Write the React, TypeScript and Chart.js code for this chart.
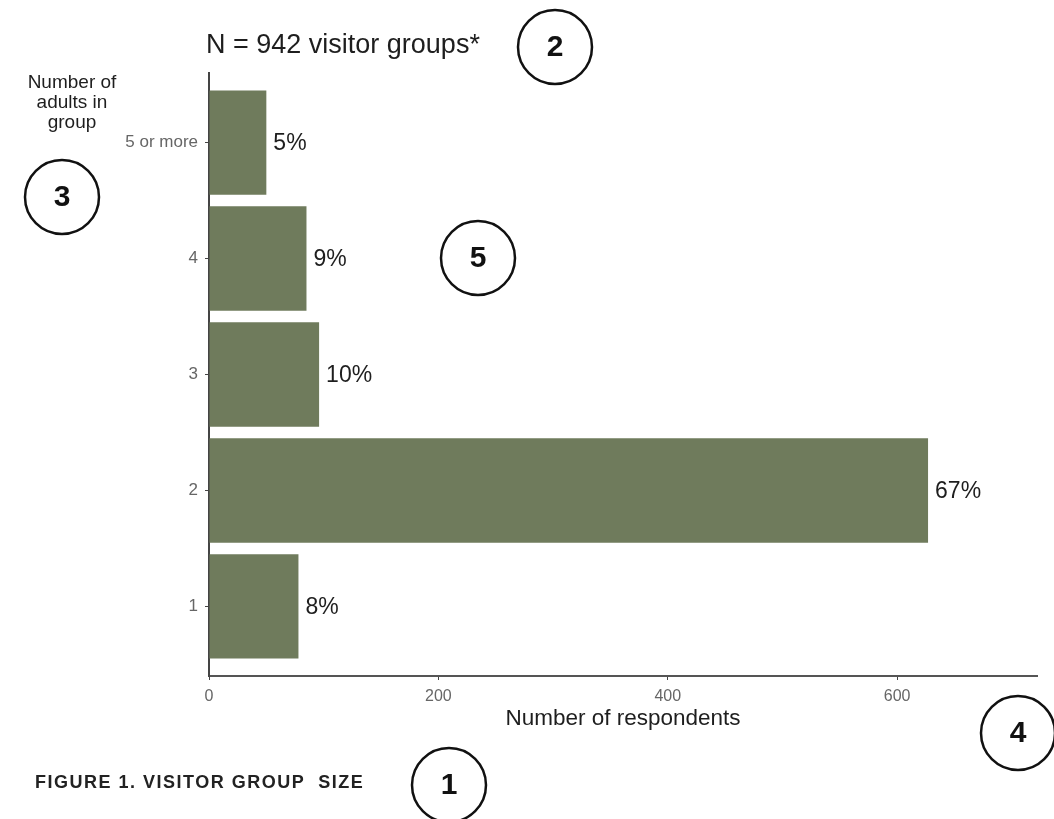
import React, { useEffect, useRef } from "react";
import { Chart, registerables } from "chart.js";

Chart.register(...registerables);

const categories = ["1", "2", "3", "4", "5 or more"];
const respondents = [78, 627, 96, 85, 50];
const percentLabels = ["8%", "67%", "10%", "9%", "5%"];
const xTicks = [0, 200, 400, 600];
const xMax = 722;
const titleText = "N = 942 visitor groups*";
const yTitleLines = ["Number of", "adults in", "group"];
const xTitleText = "Number of respondents";
const captionText = "FIGURE 1. VISITOR GROUP  SIZE";
const markers = [
  { n: "1", x: 449, y: 785 },
  { n: "2", x: 555, y: 47 },
  { n: "3", x: 62, y: 197 },
  { n: "4", x: 1018, y: 733 },
  { n: "5", x: 478, y: 258 },
];

const FONT = 'Arial, "Liberation Sans", sans-serif';
const BAR = "#6f7b5c";

const overlayPlugin = {
  id: "overlay",
  afterDraw(chart: any) {
    const ctx = chart.ctx;
    const xs = chart.scales.x;
    const ys = chart.scales.y;
    ctx.save();
    // data labels
    ctx.fillStyle = "#1e1e1e";
    ctx.font = `23px ${FONT}`;
    ctx.textAlign = "left";
    ctx.textBaseline = "middle";
    respondents.forEach((v, i) => {
      ctx.fillText(percentLabels[i], xs.getPixelForValue(v) + 7, ys.getPixelForValue(i) + 1);
    });
    // title
    ctx.font = `27px ${FONT}`;
    ctx.fillStyle = "#1e1e1e";
    ctx.fillText(titleText, 206, 46);
    // y title
    ctx.font = `19px ${FONT}`;
    ctx.textAlign = "center";
    yTitleLines.forEach((t, i) => ctx.fillText(t, 72, 83 + i * 20));
    // caption
    ctx.font = `bold 18px ${FONT}`;
    ctx.textAlign = "left";
    ctx.fillStyle = "#222";
    try {
      (ctx as any).letterSpacing = "1.5px";
    } catch (e) {}
    ctx.fillText(captionText, 35, 783);
    try {
      (ctx as any).letterSpacing = "0px";
    } catch (e) {}
    // circles
    markers.forEach((m) => {
      ctx.beginPath();
      ctx.lineWidth = 2.5;
      ctx.strokeStyle = "#111";
      ctx.arc(m.x, m.y, 37, 0, Math.PI * 2);
      ctx.stroke();
      ctx.fillStyle = "#111";
      ctx.font = `bold 30px ${FONT}`;
      ctx.textAlign = "center";
      ctx.textBaseline = "middle";
      ctx.fillText(m.n, m.x, m.y + 1);
    });
    ctx.restore();
  },
};

export default function App() {
  const ref = useRef<HTMLCanvasElement>(null);
  useEffect(() => {
    if (!ref.current) return;
    const chart = new Chart(ref.current, {
      type: "bar",
      data: {
        datasets: [
          {
            data: respondents.map((v, i) => ({ x: v, y: i })),
            backgroundColor: BAR,
            borderWidth: 0,
            barPercentage: 0.9,
            categoryPercentage: 1,
          },
        ],
      },
      options: {
        indexAxis: "y",
        responsive: false,
        animation: false,
        devicePixelRatio: 1,
        layout: { padding: { left: 0, top: 73, right: 17, bottom: 83 } },
        plugins: { legend: { display: false }, tooltip: { enabled: false }, title: { display: false } },
        scales: {
          x: {
            type: "linear",
            min: 0,
            max: xMax,
            offset: false,
            afterBuildTicks: (s: any) => {
              s.ticks = xTicks.map((v) => ({ value: v }));
            },
            afterFit: (s: any) => {
              s.height = 60;
            },
            grid: { drawOnChartArea: false, drawTicks: true, tickLength: 4, color: "#444", lineWidth: 1, offset: false },
            border: { display: true, color: "#555", width: 2 },
            ticks: { color: "#666", font: { family: FONT, size: 16 }, padding: 7, maxRotation: 0 },
            title: {
              display: true,
              text: xTitleText,
              color: "#1e1e1e",
              font: { family: FONT, size: 22.5 },
              padding: { top: 0, bottom: 4 },
            },
          },
          y: {
            type: "linear",
            min: -0.6,
            max: 4.6,
            offset: false,
            afterBuildTicks: (s: any) => {
              s.ticks = categories.map((_, i) => ({ value: i }));
            },
            afterFit: (s: any) => {
              s.width = 209;
            },
            grid: { drawOnChartArea: false, drawTicks: true, tickLength: 4, color: "#444", lineWidth: 1, offset: false },
            border: { display: true, color: "#444", width: 2 },
            ticks: {
              color: "#666",
              font: { family: FONT, size: 17 },
              padding: 7,
              callback: (v: any) => categories[Math.round(Number(v))] ?? "",
            },
          },
        },
      },
      plugins: [overlayPlugin],
    });
    return () => chart.destroy();
  }, []);
  return (
    <div style={{ position: "absolute", left: 0, top: 0, width: 1054, height: 819, background: "#fff" }}>
      <canvas ref={ref} width={1054} height={819} />
    </div>
  );
}
